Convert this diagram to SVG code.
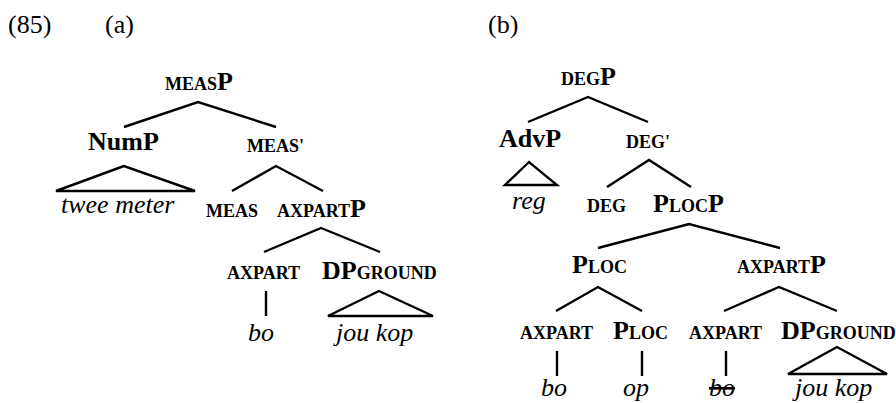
<svg xmlns="http://www.w3.org/2000/svg" width="896" height="403" viewBox="0 0 896 403">
<style>
text{font-family:"Liberation Serif","Times New Roman",serif;fill:#000}
.lbl{font-size:26px}
.big{font-size:26px;font-weight:bold}
.sc{font-size:18px;font-weight:bold}
.it{font-size:26px;font-style:italic}
.strike{text-decoration:line-through}
.edge{stroke:#000;stroke-width:2.4;fill:none;stroke-linecap:butt}
</style>
<rect width="896" height="403" fill="#fff"/>
<g id="labels">
<text class="lbl" x="8" y="33">(85)</text>
<text class="lbl" x="105" y="33">(a)</text>
<text class="lbl" x="488" y="33">(b)</text>
</g>
<g id="connectors">
<polyline class="edge" points="124,127 198,102 276,127"/>
<polygon class="edge" points="124,166 56,191 195,191"/>
<polyline class="edge" points="232,191 276,166 323,191"/>
<polyline class="edge" points="264,252 321,228 380,252"/>
<line class="edge" x1="266" y1="291" x2="266" y2="316"/>
<polygon class="edge" points="379,291 328,316 433,316"/>
<polyline class="edge" points="528,122 588,97 648,122"/>
<polygon class="edge" points="529,162 505,185 557,185"/>
<polyline class="edge" points="607,187 649,160 691,187"/>
<polyline class="edge" points="598,248 689,224 780,248"/>
<polyline class="edge" points="556,311 598,287 642,311"/>
<polyline class="edge" points="724,311 779,287 837,311"/>
<line class="edge" x1="557" y1="351" x2="557" y2="376"/>
<line class="edge" x1="642" y1="351" x2="642" y2="376"/>
<line class="edge" x1="726" y1="351" x2="726" y2="376"/>
<polygon class="edge" points="837,347 788,374 887,374"/>
</g>
<g id="a-measP"><text x="165" y="90"><tspan class="sc">MEAS</tspan><tspan class="big">P</tspan></text></g>
<g id="a-numP"><text class="big" x="88" y="150">NumP</text></g>
<g id="a-measbar"><text class="sc" x="247" y="152">MEAS'</text></g>
<g id="a-twee"><text class="it" x="61" y="213">twee meter</text></g>
<g id="a-meas"><text class="sc" x="206" y="217">MEAS</text></g>
<g id="a-axpartP"><text x="277" y="217"><tspan class="sc">AXPART</tspan><tspan class="big">P</tspan></text></g>
<g id="a-axpart"><text class="sc" x="227" y="279">AXPART</text></g>
<g id="a-dpground"><text x="322" y="279"><tspan class="big">DP</tspan><tspan class="sc">GROUND</tspan></text></g>
<g id="a-bo"><text class="it" x="248" y="341">bo</text></g>
<g id="a-joukop"><text class="it" x="336" y="341">jou kop</text></g>
<g id="b-degP"><text x="561" y="85"><tspan class="sc">DEG</tspan><tspan class="big">P</tspan></text></g>
<g id="b-advP"><text class="big" x="499" y="147">AdvP</text></g>
<g id="b-degbar"><text class="sc" x="626" y="148">DEG'</text></g>
<g id="b-reg"><text class="it" x="512" y="209">reg</text></g>
<g id="b-deg"><text class="sc" x="587" y="212">DEG</text></g>
<g id="b-plocP"><text x="653" y="212"><tspan class="big">P</tspan><tspan class="sc">LOC</tspan><tspan class="big">P</tspan></text></g>
<g id="b-ploc1"><text x="572" y="273"><tspan class="big">P</tspan><tspan class="sc">LOC</tspan></text></g>
<g id="b-axpartP"><text x="737" y="273"><tspan class="sc">AXPART</tspan><tspan class="big">P</tspan></text></g>
<g id="b-axpart1"><text class="sc" x="520" y="339">AXPART</text></g>
<g id="b-ploc2"><text x="613" y="339"><tspan class="big">P</tspan><tspan class="sc">LOC</tspan></text></g>
<g id="b-axpart2"><text class="sc" x="689" y="339">AXPART</text></g>
<g id="b-dpground"><text x="781" y="339"><tspan class="big">DP</tspan><tspan class="sc">GROUND</tspan></text></g>
<g id="b-bo1"><text class="it" x="541" y="396">bo</text></g>
<g id="b-op"><text class="it" x="623" y="396">op</text></g>
<g id="b-bo2"><text class="it strike" x="709" y="396">bo</text></g>
<g id="b-joukop"><text class="it" x="795" y="396">jou kop</text></g>
</svg>
